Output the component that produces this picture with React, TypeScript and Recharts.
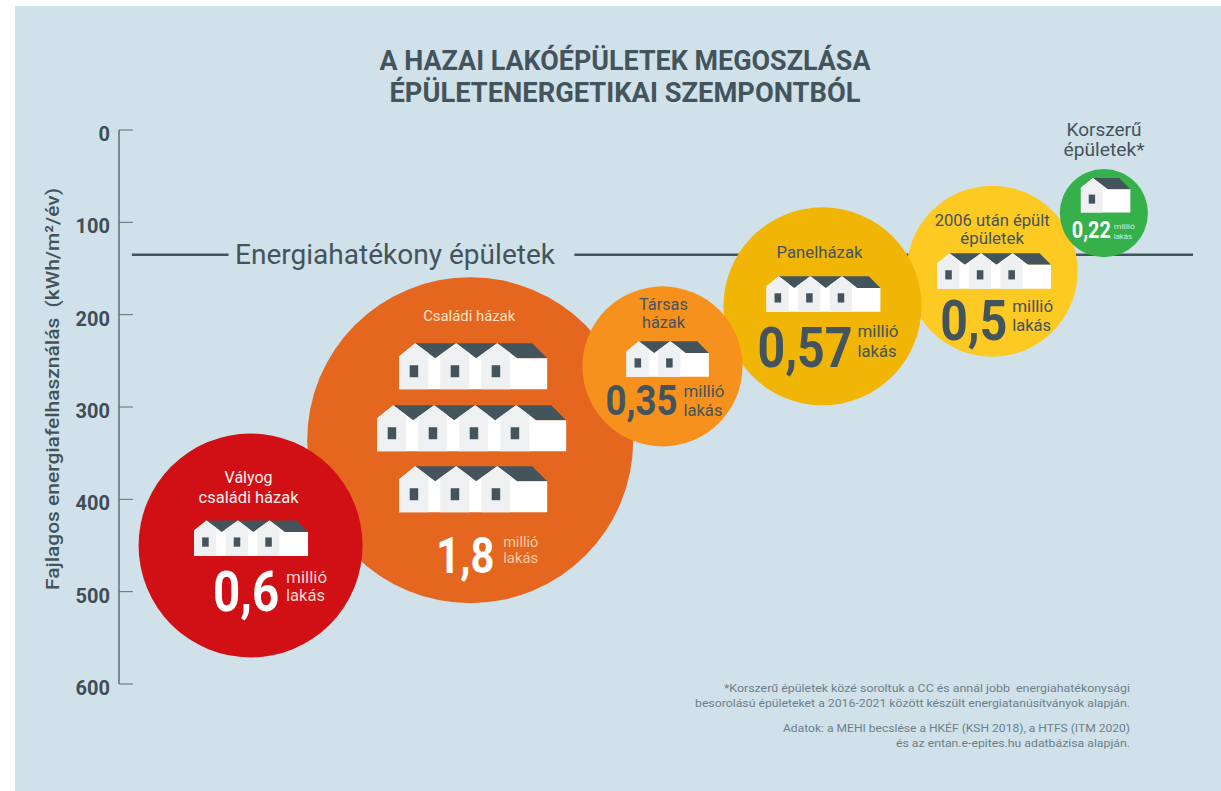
import { ScatterChart, Scatter, XAxis, YAxis, ZAxis, ReferenceLine } from "recharts";

// draw order follows the overlaps in the picture
const categories = ["Családi házak", "Vályog családi házak", "2006 után épült épületek", "Panelházak", "Társas házak", "Korszerű épületek"];
const xPositions = [32.7, 12.25, 81.3, 65.5, 50.6, 91.7];
const energyUse = [336, 450, 153, 191, 256, 90];
const bubbleArea = [100, 47.2, 27.5, 36.9, 24.1, 7.3];
const millions = [1.8, 0.6, 0.5, 0.57, 0.35, 0.22];
const yTicks = [0, 100, 200, 300, 400, 500, 600];
const efficiencyLimit = 135;

const titleLines = ["A HAZAI LAKÓÉPÜLETEK MEGOSZLÁSA", "ÉPÜLETENERGETIKAI SZEMPONTBÓL"];
const axisTitle = "Fajlagos energiafelhasználás\u00A0\u00A0(kWh/m²/év)";
const limitLabel = "Energiahatékony épületek";
const modernLabel = ["Korszerű", "épületek*"];
const footnotes = [
  "*Korszerű épületek közé soroltuk a CC és annál jobb\u00A0\u00A0energiahatékonysági",
  "besorolású épületeket a 2016-2021 között készült energiatanúsítványok alapján.",
  "Adatok: a MEHI becslése a HKÉF (KSH 2018), a HTFS (ITM 2020)",
  "és az entan.e-epites.hu adatbázisa alapján.",
];

const data = categories.map((name, i) => ({
  name,
  x: xPositions[i],
  y: energyUse[i],
  z: bubbleArea[i],
  million: millions[i],
}));

const DARK = "#44545c";
const FONT = "Roboto, sans-serif";

type Decor = {
  fill: string;
  ink: string;
  titleInk: string;
  unitInk: string;
  titles: { text: string; dx: number; dy: number; w?: number }[];
  titleSize: number;
  houses: { n: number; s: number; x: number; y: number }[];
  value: { x: number; dy: number; size: number; w: number };
  unit: { x: number; dy: number[]; size: number; w: number[] };
};

const decor: Record<string, Decor> = {
  "Vályog családi házak": {
    fill: "#d01015",
    ink: "#ffffff",
    titleInk: "#fdf0ee",
    unitInk: "#f9d5d2",
    titles: [
      { text: "Vályog", dx: -2, dy: -63, w: 48 },
      { text: "családi házak", dx: -2, dy: -43, w: 100 },
    ],
    titleSize: 17,
    houses: [{ n: 3, s: 0.77, x: -56.5, y: -25 }],
    value: { x: -37.5, dy: 65, size: 56, w: 66 },
    unit: { x: 35.5, dy: [37, 55], size: 17, w: [41, 39] },
  },
  "Családi házak": {
    fill: "#e5671f",
    ink: "#ffffff",
    titleInk: "#fde3c8",
    unitInk: "#fac9a5",
    titles: [{ text: "Családi házak", dx: -1, dy: -119, w: 92 }],
    titleSize: 14,
    houses: [
      { n: 3, s: 1, x: -71, y: -97 },
      { n: 4, s: 1, x: -93, y: -35 },
      { n: 3, s: 1, x: -71, y: 26 },
    ],
    value: { x: -34, dy: 133, size: 50, w: 58 },
    unit: { x: 33, dy: [107, 123], size: 14, w: [35, 35] },
  },
  "Társas házak": {
    fill: "#f7911e",
    ink: DARK,
    titleInk: DARK,
    unitInk: DARK,
    titles: [
      { text: "Társas", dx: 1, dy: -56, w: 49 },
      { text: "házak", dx: 1, dy: -38, w: 43 },
    ],
    titleSize: 17,
    houses: [{ n: 2, s: 0.77, x: -36, y: -25 }],
    value: { x: -57, dy: 49, size: 43, w: 72 },
    unit: { x: 21, dy: [31, 50], size: 17, w: [41, 39] },
  },
  Panelházak: {
    fill: "#f1b505",
    ink: DARK,
    titleInk: DARK,
    unitInk: DARK,
    titles: [{ text: "Panelházak", dx: -3, dy: -48, w: 86 }],
    titleSize: 16,
    houses: [{ n: 3, s: 0.77, x: -56, y: -30 }],
    value: { x: -65, dy: 61, size: 55, w: 95 },
    unit: { x: 35, dy: [31, 51], size: 17, w: [41, 39] },
  },
  "2006 után épült épületek": {
    fill: "#fdc923",
    ink: DARK,
    titleInk: DARK,
    unitInk: DARK,
    titles: [
      { text: "2006 után épült", dx: 0, dy: -45, w: 115 },
      { text: "épületek", dx: 0, dy: -27, w: 64 },
    ],
    titleSize: 16,
    houses: [{ n: 3, s: 0.77, x: -55, y: -18 }],
    value: { x: -52, dy: 69, size: 55, w: 67 },
    unit: { x: 20, dy: [41, 60], size: 17, w: [41, 39] },
  },
  "Korszerű épületek": {
    fill: "#36b04a",
    ink: "#ffffff",
    titleInk: "#ffffff",
    unitInk: "#d4eed8",
    titles: [],
    titleSize: 0,
    houses: [{ n: 1, s: 0.75, x: -23, y: -35 }],
    value: { x: -32, dy: 25, size: 23, w: 39 },
    unit: { x: 10, dy: [16, 26], size: 8, w: [21, 18] },
  },
};

function Houses({ n, s, x, y }: { n: number; s: number; x: number; y: number }) {
  const g = 41;
  const w = n * g + 25;
  let outline = "0,13";
  for (let i = 0; i < n; i++) {
    outline += ` ${i * g + 16},0 ${i * g + 36},15`;
  }
  outline += ` ${w},15 ${w},46 0,46`;
  const idx = Array.from({ length: n }, (_, i) => i);
  return (
    <g transform={`translate(${x},${y}) scale(${s})`}>
      <polygon points={`16,0 ${w - 15},0 ${w},15 16,15`} fill={DARK} />
      <polygon points={outline} fill="#ffffff" />
      {idx.map((i) => (
        <polygon
          key={i}
          points={`${i * g},${i === 0 ? 13 : 11.4} ${i * g + 16},0 ${i * g + 29},9.7 ${i * g + 29},46 ${i * g},46`}
          fill="#eef0f2"
        />
      ))}
      {idx.map((i) => (
        <rect key={i} x={i * g + 10.5} y={22} width={8.5} height={12} fill={DARK} />
      ))}
    </g>
  );
}

function fmt(v: number) {
  return String(v).replace(".", ",");
}

// the original numerals are narrower than Roboto Bold, so squeeze them to the width seen in the picture
function squeeze(label: string, size: number, w: number) {
  const natural = ((label.length - 1) * 0.575 + 0.24) * size;
  return w / natural;
}

function Bubble(props: any) {
  const { cx, cy, width, payload } = props;
  const d = decor[payload.name];
  const label = fmt(payload.million);
  const sx = squeeze(label, d.value.size, d.value.w);
  return (
    <g fontFamily={FONT}>
      <circle cx={cx} cy={cy} r={width / 2} fill={d.fill} />
      {d.titles.map((t) => (
        <text
          key={t.text}
          x={cx + t.dx}
          y={cy + t.dy}
          textAnchor="middle"
          fontSize={d.titleSize}
          fill={d.titleInk}
          textLength={t.w}
          lengthAdjust="spacingAndGlyphs"
        >
          {t.text}
        </text>
      ))}
      {d.houses.map((h, i) => (
        <Houses key={i} n={h.n} s={h.s} x={cx + h.x} y={cy + h.y} />
      ))}
      <text
        transform={`translate(${cx + d.value.x},${cy + d.value.dy}) scale(${sx},1)`}
        fontSize={d.value.size}
        fontWeight={700}
        fill={d.ink}
      >
        {label}
      </text>
      {["millió", "lakás"].map((u, i) => (
        <text
          key={u}
          x={cx + d.unit.x}
          y={cy + d.unit.dy[i]}
          fontSize={d.unit.size}
          fill={d.unitInk}
          textLength={d.unit.w[i]}
          lengthAdjust="spacingAndGlyphs"
        >
          {u}
        </text>
      ))}
    </g>
  );
}

function AxisTick(props: any) {
  const { x, y, payload } = props;
  return (
    <g>
      <line x1={x} x2={x + 14} y1={y} y2={y} stroke="#5d6f7a" strokeWidth={1} />
      <text x={x - 9} y={y + 11} textAnchor="end" fontSize={20} fontWeight={700} fontFamily={FONT} fill="#3f4e56">
        {payload.value}
      </text>
    </g>
  );
}

const footY = [692, 707, 732, 747];
const footW = [406, 435, 347, 234];

export default function App() {
  return (
    <div style={{ position: "absolute", left: 0, top: 0, width: 1221, height: 791, background: "#fff", overflow: "hidden" }}>
      <div style={{ position: "absolute", left: 15, top: 6, right: 0, bottom: 0, background: "#d0e1ea" }} />
      <ScatterChart width={1221} height={791} margin={{ top: 130, right: 28, bottom: 107, left: 19 }} style={{ position: "absolute", left: 0, top: 0 }}>
        <XAxis type="number" dataKey="x" domain={[0, 100]} hide />
        <YAxis
          type="number"
          dataKey="y"
          domain={[0, 600]}
          reversed
          ticks={yTicks}
          width={100}
          tickSize={0}
          tickMargin={0}
          tickLine={false}
          axisLine={{ stroke: "#5d6f7a", strokeWidth: 1.5 }}
          tick={<AxisTick />}
          interval={0}
        />
        <ZAxis type="number" dataKey="z" domain={[0, 100]} range={[0, 83470]} />
        <ReferenceLine stroke={DARK} strokeWidth={2.5} segment={[{ x: 1.2, y: efficiencyLimit }, { x: 10.2, y: efficiencyLimit }]} />
        <ReferenceLine stroke={DARK} strokeWidth={2.5} segment={[{ x: 42.4, y: efficiencyLimit }, { x: 100, y: efficiencyLimit }]} />
        <Scatter data={data} isAnimationActive={false} shape={<Bubble />} />
        <g fontFamily={FONT}>
          {titleLines.map((t, i) => (
            <text key={t} x={625} y={70 + i * 32} textAnchor="middle" fontSize={27} fontWeight={700} fill={DARK} textLength={i === 0 ? 491 : 471} lengthAdjust="spacingAndGlyphs">
              {t}
            </text>
          ))}
          <text x={395} y={264} textAnchor="middle" fontSize={27} fill={DARK} textLength={320} lengthAdjust="spacingAndGlyphs">
            {limitLabel}
          </text>
          <text transform="translate(59,389) rotate(-90)" textAnchor="middle" fontSize={19} fontWeight={500} fill={DARK} textLength={402} lengthAdjust="spacingAndGlyphs">
            {axisTitle}
          </text>
          {modernLabel.map((t, i) => (
            <text key={t} x={1104} y={136 + i * 20} textAnchor="middle" fontSize={18} fill={DARK} textLength={i === 0 ? 75 : 81} lengthAdjust="spacingAndGlyphs">
              {t}
            </text>
          ))}
          {footnotes.map((t, i) => (
            <text key={t} x={1130} y={footY[i]} textAnchor="end" fontSize={11.5} fill="#6d7f89" textLength={footW[i]} lengthAdjust="spacingAndGlyphs">
              {t}
            </text>
          ))}
        </g>
      </ScatterChart>
    </div>
  );
}
